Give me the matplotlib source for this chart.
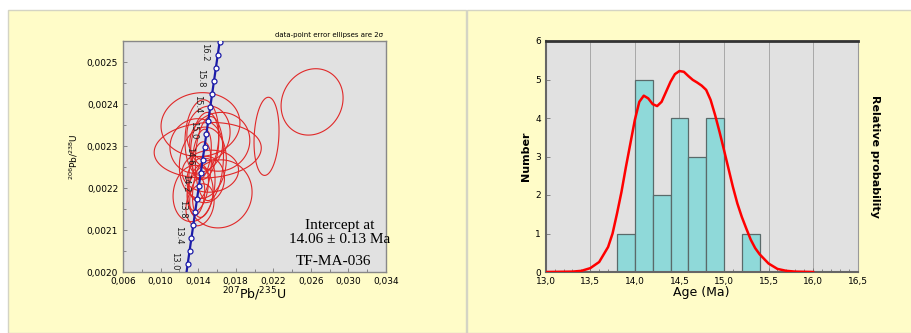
import numpy as np
import matplotlib
matplotlib.use("Agg")
import matplotlib.pyplot as plt
from matplotlib.patches import Rectangle, Polygon
from matplotlib.ticker import MultipleLocator, FuncFormatter

# concordia points (age Ma, 207Pb/235U, 206Pb/238U)
conc_age = [12.8, 13.0, 13.2, 13.4, 13.6, 13.8, 14.0, 14.2, 14.4, 14.6, 14.8,
            15.0, 15.2, 15.4, 15.6, 15.8, 16.0, 16.2, 16.4]
conc_x = [0.012687, 0.0128854, 0.0130849, 0.0132845, 0.0134841, 0.0136837,
          0.0138834, 0.0140831, 0.0142829, 0.0144827, 0.0146825, 0.0148824,
          0.0150823, 0.0152823, 0.0154823, 0.0156823, 0.0158824, 0.0160825,
          0.0162827]
conc_y = [0.0019873, 0.0020187, 0.0020497, 0.0020808, 0.0021119, 0.0021430,
          0.0021741, 0.0022052, 0.0022363, 0.0022674, 0.0022985, 0.0023296,
          0.0023607, 0.0023918, 0.0024229, 0.0024540, 0.0024851, 0.0025162,
          0.0025473]
conc_labels = ["13.0", "13.4", "13.8", "14.2", "14.6", "15.0", "15.4", "15.8", "16.2"]

# error ellipses: centre x, centre y, half-width x, half-height y, correlation
ell_cx = [0.02613, 0.02128, 0.01425, 0.01502, 0.01346, 0.01628, 0.01630, 0.01450,
          0.01420, 0.01440, 0.01470, 0.01400, 0.01390, 0.01480, 0.01530, 0.01440,
          0.01510, 0.01420, 0.01460, 0.01520, 0.01380]
ell_cy = [0.002405, 0.002323, 0.002351, 0.002290, 0.002187, 0.002186, 0.002310,
          0.002260, 0.002240, 0.002280, 0.002300, 0.002200, 0.002180, 0.002220,
          0.002240, 0.002320, 0.002330, 0.002160, 0.002200, 0.002270, 0.002300]
ell_sx = [0.00330, 0.00133, 0.00420, 0.00570, 0.00213, 0.00346, 0.00320, 0.00250,
          0.00120, 0.00100, 0.00150, 0.00110, 0.00080, 0.00200, 0.00300, 0.00180,
          0.00230, 0.00150, 0.00120, 0.00150, 0.00280]
ell_sy = [0.0000790, 0.0000930, 0.0000760, 0.0000660, 0.0000670, 0.0000810,
          0.0000700, 0.0000850, 0.0000700, 0.0000600, 0.0000800, 0.0000550,
          0.0000450, 0.0000550, 0.0000500, 0.0000900, 0.0000650, 0.0000500,
          0.0000700, 0.0001000, 0.0000650]
ell_rho = [0.12, 0.15, 0.05, 0.08, 0.1, 0.05, 0.05, 0.1, 0.3, 0.3, 0.2, 0.3, 0.3,
           0.05, 0.05, 0.1, 0.05, 0.2, 0.3, 0.1, 0.05]

# histogram bins and counts
bin_left = [13.8, 14.0, 14.2, 14.4, 14.6, 14.8, 15.0, 15.2]
bin_count = [1, 5, 2, 4, 3, 4, 0, 1]

# relative probability curve (scaled to count axis)
prob_age = [13.0, 13.3, 13.4, 13.5, 13.6, 13.7, 13.75, 13.8, 13.85, 13.9, 13.95,
            14.0, 14.05, 14.1, 14.15, 14.2, 14.25, 14.3, 14.35, 14.4, 14.45, 14.5,
            14.55, 14.6, 14.65, 14.7, 14.75, 14.8, 14.85, 14.9, 14.95, 15.0, 15.05,
            15.1, 15.15, 15.2, 15.25, 15.3, 15.35, 15.4, 15.5, 15.6, 15.7, 15.8, 16.0]
prob_val = [0.0, 0.01, 0.03, 0.10, 0.26, 0.65, 1.0, 1.52, 2.08, 2.73, 3.34,
            3.95, 4.42, 4.58, 4.51, 4.36, 4.31, 4.42, 4.68, 4.94, 5.14, 5.22,
            5.20, 5.09, 4.99, 4.92, 4.84, 4.73, 4.47, 4.08, 3.64, 3.17, 2.69,
            2.21, 1.78, 1.43, 1.13, 0.84, 0.62, 0.46, 0.22, 0.08, 0.03, 0.01, 0.0]

W, H = 911, 333
fig = plt.figure(figsize=(W / 100, H / 100), dpi=100, facecolor="white")
yellow = "#fffcc8"
fig.patches.append(Rectangle((8 / W, 0), 458 / W, 323 / H, transform=fig.transFigure,
                             facecolor=yellow, edgecolor="#d4d4c4", lw=1, zorder=-10))
fig.patches.append(Rectangle((467 / W, 0), 446 / W, 323 / H, transform=fig.transFigure,
                             facecolor=yellow, edgecolor="#d4d4c4", lw=1, zorder=-10))

comma = lambda fmt: FuncFormatter(lambda v, p: (fmt % v).replace(".", ","))

# ---------- left: concordia ----------
ax = fig.add_axes([123 / W, 61 / H, 263 / W, 231 / H])
ax.set_facecolor("#e1e1e1")
t = np.linspace(0, 2 * np.pi, 240, endpoint=False)
for cx, cy, sx, sy, r in zip(ell_cx, ell_cy, ell_sx, ell_sy, ell_rho):
    pts = np.column_stack([cx + sx * np.cos(t),
                           cy + sy * (r * np.cos(t) + np.sqrt(1 - r * r) * np.sin(t))])
    ax.add_patch(Polygon(pts, closed=True, fill=False, edgecolor="#e02828", lw=0.8,
                         zorder=2))
ax.plot(conc_x, conc_y, color="#1c1ca8", lw=1.6, zorder=3)
ax.plot(conc_x[1:], conc_y[1:], "o", ms=3.6, mfc="white", mec="#1c1ca8", mew=0.9, zorder=4)
for lab in conc_labels:
    i = conc_age.index(float(lab))
    ax.annotate(lab, (conc_x[i], conc_y[i]), xytext=(-13, 3), textcoords="offset pixels",
                rotation=-90, fontsize=6, ha="center", va="center", color="#222222", zorder=5)
ax.set_xlim(0.006, 0.034)
ax.set_ylim(0.0020, 0.00255)
ax.xaxis.set_major_locator(MultipleLocator(0.004, offset=0.002))
ax.xaxis.set_minor_locator(MultipleLocator(0.002))
ax.yaxis.set_major_locator(MultipleLocator(0.0001))
ax.yaxis.set_minor_locator(MultipleLocator(0.00005))
ax.xaxis.set_major_formatter(comma("%.3f"))
ax.yaxis.set_major_formatter(comma("%.4f"))
ax.tick_params(which="both", direction="in", length=3, width=0.6, color="#777777",
               labelsize=6.5, top=False, right=False)
ax.tick_params(which="minor", length=2)
for sp in ax.spines.values():
    sp.set_color("#888888")
    sp.set_linewidth(1)
ax.set_xlabel("$^{207}$Pb/$^{235}$U", fontsize=9, labelpad=0)
ax.set_ylabel("$^{206}$Pb/$^{238}$U", fontsize=6.5, labelpad=5)
ax.text(0.99, 1.015, "data-point error ellipses are 2σ", transform=ax.transAxes,
        fontsize=5, ha="right", va="bottom")
ax.text(0.825, 0.173, "Intercept at\n14.06 ± 0.13 Ma", transform=ax.transAxes,
        family="Liberation Serif", fontsize=11, ha="center", va="center", linespacing=1.1)
ax.text(0.80, 0.045, "TF-MA-036", transform=ax.transAxes,
        family="Liberation Serif", fontsize=11, ha="center", va="center")

# ---------- right: histogram ----------
ax2 = fig.add_axes([545.7 / W, 61 / H, 312 / W, 231 / H])
ax2.set_facecolor("#e1e1e1")
ax2.bar(bin_left, bin_count, width=0.2, align="edge", color="#8fd9d9",
        edgecolor="#5a6a6a", lw=0.9, zorder=2)
ax2.plot(prob_age, prob_val, color="#ff0000", lw=1.8, zorder=3)
ax2.set_xlim(13.0, 16.5)
ax2.set_ylim(0, 6)
ax2.xaxis.set_major_locator(MultipleLocator(0.5))
ax2.xaxis.set_minor_locator(MultipleLocator(0.1))
ax2.yaxis.set_major_locator(MultipleLocator(1))
ax2.xaxis.set_major_formatter(comma("%.1f"))
ax2.grid(axis="x", color="#a8a8a8", lw=0.7, zorder=0)
ax2.set_axisbelow(True)
ax2.tick_params(which="both", direction="in", length=3, width=0.6, color="#777777",
                labelsize=6.5)
ax2.tick_params(which="minor", length=2)
ax2.spines["top"].set_color("#333333")
ax2.spines["top"].set_linewidth(2)
ax2.spines["left"].set_color("#666666")
ax2.spines["left"].set_linewidth(1.5)
ax2.spines["bottom"].set_color("#666666")
ax2.spines["bottom"].set_linewidth(1.5)
ax2.spines["right"].set_color("#999999")
ax2.set_xlabel("Age (Ma)", fontsize=9, labelpad=0)
ax2.set_ylabel("Number", fontsize=8, fontweight="bold", labelpad=3)
ax2.text(1.055, 0.5, "Relative probability", transform=ax2.transAxes, rotation=-90,
         fontsize=8, fontweight="bold", ha="center", va="center")

fig.savefig("out.png", dpi=100, facecolor=fig.get_facecolor())
